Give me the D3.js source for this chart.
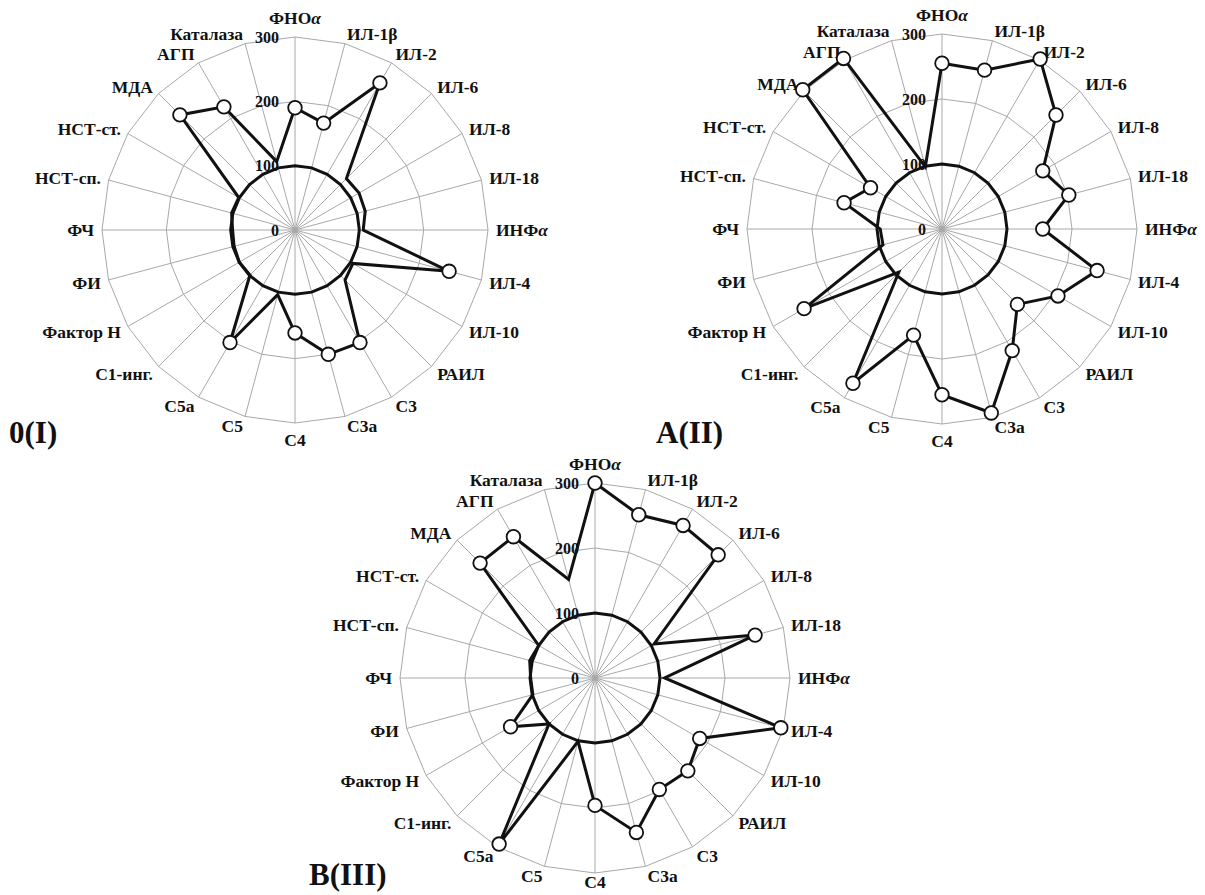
<!DOCTYPE html>
<html>
<head>
<meta charset="utf-8">
<script src="https://cdn.jsdelivr.net/npm/d3@7"></script>
<style>
  body { margin: 0; background: #fff; }
  svg text { font-family: "Liberation Serif", "Times New Roman", serif; font-weight: bold; fill: #111; }
</style>
</head>
<body>
<div id="chart"></div>
<script>
// =========================
// DATA
// =========================
const categories = ["ФНОα", "ИЛ-1β", "ИЛ-2", "ИЛ-6", "ИЛ-8", "ИЛ-18", "ИНФα", "ИЛ-4", "ИЛ-10", "РАИЛ",
    "C3", "C3a", "C4", "C5", "C5a", "C1-инг.", "Фактор H", "ФИ", "ФЧ", "НСТ-сп.", "НСТ-ст.", "МДА", "АГП", "Каталаза"];

const tickValues = [0, 100, 200, 300];

// control level = 100% on every axis
const control = [100, 100, 100, 100, 100, 100, 100, 100, 100, 100, 100, 100,
    100, 100, 100, 100, 100, 100, 100, 100, 100, 100, 100, 100];

const group0 = [190, 172, 264, 113, 115, 113, 106, 248, 104, 110, 202, 200,
    160, 104, 202, 99, 100, 98, 97, 102, 101, 253, 221, 110];
const group1 = [255, 253, 302, 248, 179, 202, 155, 247, 206, 164, 216, 293,
    255, 169, 274, 94, 245, 94, 95, 156, 127, 303, 303, 99];
const group2 = [300, 260, 271, 268, 105, 255, 107, 296, 186, 202, 198, 246,
    196, 101, 295, 100, 150, 99, 99, 104, 100, 250, 251, 157];

// axes with a significant shift (drawn with a marker)
const marked0 = ["ФНОα", "ИЛ-1β", "ИЛ-2", "ИЛ-4", "C3", "C3a", "C4", "C5a", "МДА", "АГП"];
const marked1 = ["ФНОα", "ИЛ-1β", "ИЛ-2", "ИЛ-6", "ИЛ-8", "ИЛ-18", "ИНФα", "ИЛ-4", "ИЛ-10", "РАИЛ",
    "C3", "C3a", "C4", "C5", "C5a", "Фактор H", "НСТ-сп.", "НСТ-ст.", "МДА", "АГП"];
const marked2 = ["ФНОα", "ИЛ-1β", "ИЛ-2", "ИЛ-6", "ИЛ-18", "ИЛ-4", "ИЛ-10", "РАИЛ",
    "C3", "C3a", "C4", "C5a", "Фактор H", "МДА", "АГП"];

const titles = ["0(I)", "А(II)", "В(III)"];

// =========================
// SVG
// =========================
const svg = d3.select("#chart")
    .append("svg")
    .attr("width", 1205)
    .attr("height", 895);

const angle = d3.scaleLinear()
    .domain([0, categories.length])
    .range([0, 2 * Math.PI]);

function drawRadar(values, marked, title, cfg) {
    const r = d3.scaleLinear().domain([0, 300]).range([0, cfg.radius]);
    const g = svg.append("g").attr("transform", `translate(${cfg.cx},${cfg.cy})`);

    const ringLine = d3.lineRadial()
        .angle((d, i) => angle(i))
        .radius(d => r(d))
        .curve(d3.curveLinearClosed);

    // grid rings
    tickValues.filter(t => t > 0).forEach(t => {
        g.append("path")
            .attr("d", ringLine(categories.map(() => t)))
            .attr("fill", "none")
            .attr("stroke", "#a8a8a8")
            .attr("stroke-width", 1);
    });

    // spokes
    categories.forEach((c, i) => {
        const a = angle(i);
        g.append("line")
            .attr("x1", 0).attr("y1", 0)
            .attr("x2", r(300) * Math.sin(a))
            .attr("y2", -r(300) * Math.cos(a))
            .attr("stroke", "#a8a8a8")
            .attr("stroke-width", 1);
    });

    // tick labels
    tickValues.forEach(t => {
        g.append("text")
            .attr("x", -16)
            .attr("y", -r(t))
            .attr("dy", "0.35em")
            .attr("text-anchor", "end")
            .style("font-size", "16px")
            .text(t);
    });

    // category labels
    categories.forEach((c, i) => {
        const a = angle(i);
        const s = Math.sin(a), co = Math.cos(a);
        const ex = r(300) * s, ey = -r(300) * co;
        let anchor = "middle", x = ex, y;
        if (Math.abs(s) < 0.05) {
            y = co > 0 ? ey - 19 : ey + cfg.bottomGap;
        } else {
            anchor = s > 0 ? "start" : "end";
            x = ex + s * 8;
            y = ey - co * 10;
        }
        const txt = g.append("text")
            .attr("x", x)
            .attr("y", y)
            .attr("dy", "0.35em")
            .attr("text-anchor", anchor)
            .style("font-size", "17.5px");
        if (c.endsWith("α")) {
            txt.append("tspan").text(c.slice(0, -1));
            txt.append("tspan").style("font-style", "italic").text("α");
        } else {
            txt.text(c);
        }
    });

    // control circle (100)
    g.append("path")
        .attr("d", ringLine(control))
        .attr("fill", "none")
        .attr("stroke", "#111")
        .attr("stroke-width", 3);

    // data line
    g.append("path")
        .attr("d", ringLine(values))
        .attr("fill", "none")
        .attr("stroke", "#111")
        .attr("stroke-width", 3)
        .attr("stroke-linejoin", "miter");

    // markers
    g.selectAll("circle.marker")
        .data(values.map((v, i) => ({ v, i, c: categories[i] })).filter(d => marked.includes(d.c)))
        .enter()
        .append("circle")
        .attr("class", "marker")
        .attr("cx", d => r(d.v) * Math.sin(angle(d.i)))
        .attr("cy", d => -r(d.v) * Math.cos(angle(d.i)))
        .attr("r", 6.8)
        .attr("fill", "#fff")
        .attr("stroke", "#111")
        .attr("stroke-width", 1.8);

    // title
    svg.append("text")
        .attr("x", cfg.tx)
        .attr("y", cfg.ty)
        .style("font-size", "31px")
        .text(title);
}

drawRadar(group0, marked0, titles[0], { cx: 295, cy: 230, radius: 193, tx: 9, ty: 443, bottomGap: 17 });
drawRadar(group1, marked1, titles[1], { cx: 942, cy: 229, radius: 195, tx: 656, ty: 443, bottomGap: 17 });
drawRadar(group2, marked2, titles[2], { cx: 595, cy: 678, radius: 195, tx: 309, ty: 885, bottomGap: 9 });
</script>
</body>
</html>
